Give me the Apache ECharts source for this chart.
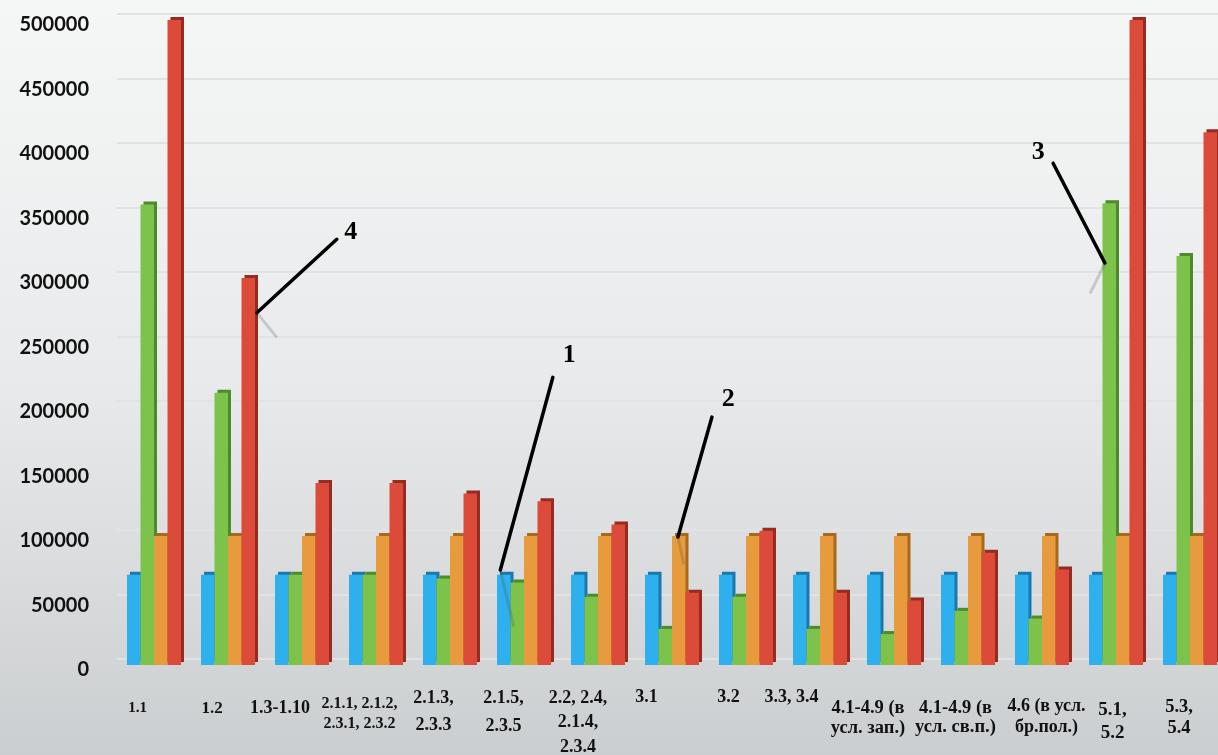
<!DOCTYPE html>
<html>
<head>
<meta charset="utf-8">
<script src="https://cdn.jsdelivr.net/npm/echarts@6/dist/echarts.min.js"></script>
<style>
html,body{margin:0;padding:0;width:1218px;height:755px;overflow:hidden;}
#main{width:1218px;height:755px;}
</style>
</head>
<body>
<div id="main"></div>
<script>
// ---- data ----
const categories = [
  '1.1', '1.2', '1.3-1.10', '2.1.1, 2.1.2,\n2.3.1, 2.3.2', '2.1.3,\n2.3.3',
  '2.1.5,\n2.3.5', '2.2, 2.4,\n2.1.4,\n2.3.4', '3.1', '3.2', '3.3, 3.4',
  '4.1-4.9 (в\nусл. зап.)', '4.1-4.9 (в\nусл. св.п.)', '4.6 (в усл.\nбр.пол.)', '5.1,\n5.2', '5.3,\n5.4'
];
const seriesNames = ['1', '2', '3', '4'];
const blueValues   = [70000, 70000, 70000, 70000, 70000, 70000, 70000, 70000, 70000, 70000, 70000, 70000, 70000, 70000, 70000];
const greenValues  = [357000, 211000, 70000, 70000, 67000, 64000, 53000, 28000, 53000, 28000, 24000, 42000, 36000, 358000, 317000];
const orangeValues = [100000, 100000, 100000, 100000, 100000, 100000, 100000, 100000, 100000, 100000, 100000, 100000, 100000, 100000, 100000];
const redValues    = [500000, 300000, 141000, 141000, 133000, 127000, 109000, 56000, 104000, 56000, 50000, 87000, 74000, 500000, 413000];
const yTicks = [0, 50000, 100000, 150000, 200000, 250000, 300000, 350000, 400000, 450000, 500000];

// annotation callouts, in data units: [category index, value]
const annotations = [
  { text: '4', from: [2.47, 330000], to: [1.39, 273000], label: [2.66, 335700], shade: [1.66, 254000] },
  { text: '1', from: [5.39, 223000], to: [4.68, 73600],  label: [5.61, 240300], shade: [4.86, 30000] },
  { text: '2', from: [7.54, 192200], to: [7.08, 99200],  label: [7.76, 206200], shade: [7.16, 78000] },
  { text: '3', from: [12.15, 389000], to: [12.85, 311600], label: [11.95, 397700], shade: [12.65, 288000] }
];

// ---- label styling (not data) ----
const labelSizes = [15, 17, 18, 16, 18, 18, 18, 18, 18, 18, 18.5, 18.5, 18, 19, 18.5];
const labelLH    = [22, 22, 22, 20, 27, 28, 24.5, 22, 22, 22, 20, 19, 21, 23, 21];
const labelY     = [708, 709, 708, 704, 698, 698, 698, 697, 697, 697, 708, 708, 706, 710, 707];
const labelDx    = [-16.5, -16, -22, -16.5, -16.5, -20.5, -20, -25.5, -17.5, -28.5, -26, -12.5, 4.5, -3.5, -11];

const AXIS_Y = 665;
const WALL_SHIFT = 6; // back-wall gridlines sit a little above the front scale
const categoryData = categories.map((c, i) => {
  const padTop = Math.max(0, labelY[i] - labelLH[i] / 2 - AXIS_Y);
  const dx = labelDx[i];
  return {
    value: c,
    textStyle: {
      fontSize: labelSizes[i],
      lineHeight: labelLH[i],
      padding: [padTop, dx < 0 ? -2 * dx : 0, 0, dx > 0 ? 2 * dx : 0]
    }
  };
});

const palette = [
  { c: '#2fb0ee', s: '#1a78ad' },
  { c: '#7dc24b', s: '#4d8a2a' },
  { c: '#e89b3c', s: '#a8691d' },
  { c: '#dc4b39', s: '#962b21' }
];
const allValues = [blueValues, greenValues, orangeValues, redValues];

const chart = echarts.init(document.getElementById('main'), null, { renderer: 'canvas' });

const yMin = yTicks[0], yMax = yTicks[yTicks.length - 1], yStep = yTicks[1] - yTicks[0];

const option = {
  animation: false,
  backgroundColor: {
    type: 'linear', x: 0, y: 0, x2: 0, y2: 1,
    colorStops: [
      { offset: 0, color: '#f5f6f6' },
      { offset: 0.5, color: '#e9eaeb' },
      { offset: 1, color: '#cbced0' }
    ]
  },
  grid: [
    { left: 117, right: -9, top: 20, bottom: 755 - AXIS_Y, containLabel: false, outerBoundsMode: 'none' },
    { left: 117, right: -9, top: 20 - WALL_SHIFT, bottom: 755 - AXIS_Y + WALL_SHIFT, containLabel: false, outerBoundsMode: 'none' }
  ],
  xAxis: [{
    type: 'category',
    gridIndex: 0,
    data: categoryData,
    boundaryGap: true,
    axisLine: { show: false },
    axisTick: { show: false },
    axisLabel: {
      interval: 0,
      margin: 0,
      verticalAlign: 'top',
      align: 'center',
      color: '#111',
      fontFamily: '"Liberation Serif", "Times New Roman", serif',
      fontWeight: 'bold'
    },
    splitLine: { show: false }
  }, {
    type: 'category',
    gridIndex: 1,
    data: categories,
    show: false
  }],
  yAxis: [{
    type: 'value',
    gridIndex: 0,
    min: yMin, max: yMax, interval: yStep,
    axisLine: { show: false },
    axisTick: { show: false },
    axisLabel: {
      margin: 28,
      color: '#111',
      fontFamily: 'Lato, "Open Sans", sans-serif',
      fontWeight: 'bold',
      fontSize: 20,
      verticalAlign: 'top',
      lineHeight: 10,
      formatter: v => String(v)
    },
    splitLine: { show: false }
  }, {
    type: 'value',
    gridIndex: 1,
    min: yMin, max: yMax, interval: yStep,
    axisLine: { show: false },
    axisTick: { show: false },
    axisLabel: { show: false },
    splitLine: { show: true, lineStyle: { color: '#e1e2e3', width: 2 } }
  }],
  series: allValues.map((vals, k) => ({
    name: seriesNames[k],
    type: 'bar',
    xAxisIndex: 0,
    yAxisIndex: 0,
    data: vals,
    barWidth: 13.5,
    barGap: '0%',
    z: 3,
    itemStyle: {
      color: palette[k].c,
      shadowColor: palette[k].s,
      shadowBlur: 0,
      shadowOffsetX: 3,
      shadowOffsetY: -3
    },
    emphasis: { disabled: true }
  }))
};
chart.setOption(option);

// Build callouts from data coordinates
function toPx(pt) {
  const x0 = chart.convertToPixel({ xAxisIndex: 0 }, 0);
  const x1 = chart.convertToPixel({ xAxisIndex: 0 }, 1);
  const y = chart.convertToPixel({ yAxisIndex: 0 }, pt[1]);
  return [x0 + (x1 - x0) * pt[0], y];
}
const graphics = [];
annotations.forEach(a => {
  const f = toPx(a.from), t = toPx(a.to), l = toPx(a.label), s = toPx(a.shade);
  graphics.push({
    type: 'line', z: 50,
    shape: { x1: t[0], y1: t[1], x2: s[0], y2: s[1] },
    style: { stroke: 'rgba(70,70,70,0.22)', lineWidth: 3 }
  });
  graphics.push({
    type: 'line', z: 51,
    shape: { x1: f[0], y1: f[1], x2: t[0], y2: t[1] },
    style: { stroke: '#000', lineWidth: 3.5, lineCap: 'round' }
  });
  graphics.push({
    type: 'text', z: 52,
    x: l[0], y: l[1],
    style: {
      text: a.text,
      fill: '#000',
      font: 'bold 26px "Liberation Serif", "Times New Roman", serif',
      textAlign: 'center',
      textVerticalAlign: 'middle',
      align: 'center',
      verticalAlign: 'middle'
    }
  });
});
chart.setOption({ graphic: graphics });
</script>
</body>
</html>
